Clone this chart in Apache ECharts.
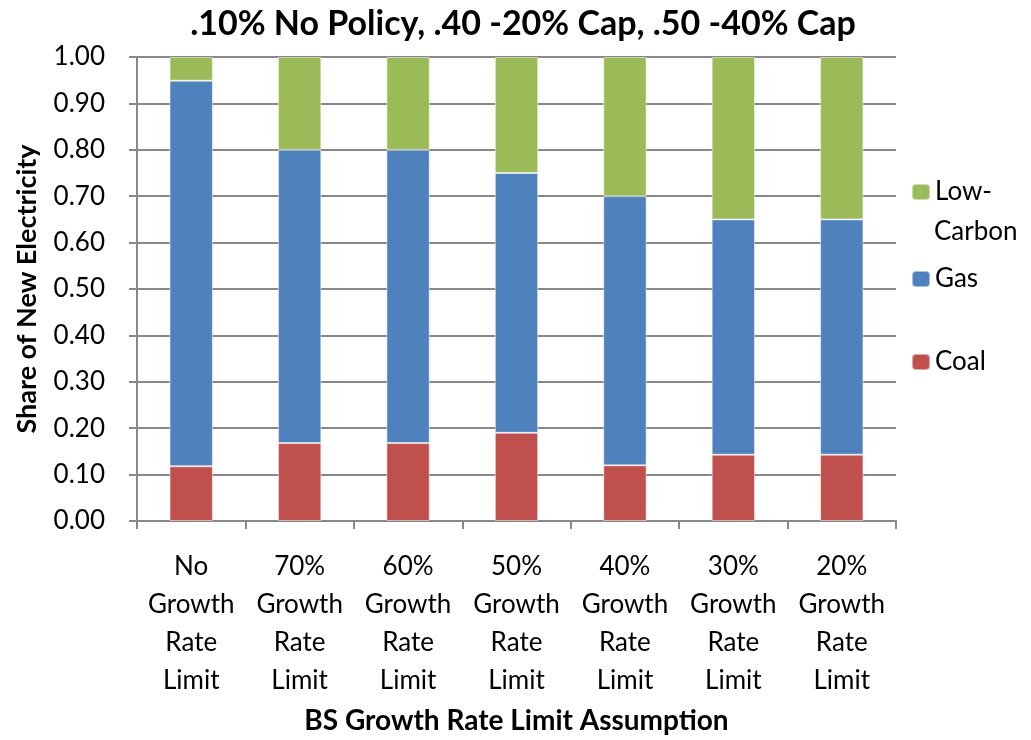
<!DOCTYPE html>
<html><head><meta charset="utf-8">
<script src="https://cdn.jsdelivr.net/npm/echarts@6/dist/echarts.min.js"></script>
<style>html,body{margin:0;padding:0;background:#fff}#c{width:1031px;height:740px}</style>
</head><body><div id="c"></div>
<script>
const categories = ['No\nGrowth\nRate\nLimit','70%\nGrowth\nRate\nLimit','60%\nGrowth\nRate\nLimit','50%\nGrowth\nRate\nLimit','40%\nGrowth\nRate\nLimit','30%\nGrowth\nRate\nLimit','20%\nGrowth\nRate\nLimit'];
const coal = [0.118, 0.168, 0.168, 0.19, 0.12, 0.143, 0.143];
const gas = [0.831, 0.632, 0.632, 0.56, 0.58, 0.507, 0.507];
const lowCarbon = [0.051, 0.20, 0.20, 0.25, 0.30, 0.35, 0.35];
const yTicks = ['0.00','0.10','0.20','0.30','0.40','0.50','0.60','0.70','0.80','0.90','1.00'];

const FONT = 'Lato, "Open Sans", sans-serif';
const chart = echarts.init(document.getElementById('c'), null, {renderer:'canvas'});
const legendBase = {orient:'vertical', itemWidth:18, itemHeight:16, itemGap:10,
  textStyle:{fontFamily:FONT, fontSize:26, color:'#000'}, selectedMode:false};
chart.setOption({
  animation:false,
  title:{text:'.10% No Policy, .40 -20% Cap, .50 -40% Cap', left:518, textAlign:'center', top:2,
    textStyle:{fontFamily:FONT, fontSize:34, fontWeight:'bold', color:'#000'}},
  legend:[
    Object.assign({}, legendBase, {data:['Low-Carbon'], left:906, top:174,
      formatter:()=> 'Low-'}),
    Object.assign({}, legendBase, {data:['Gas'], left:906, top:261}),
    Object.assign({}, legendBase, {data:['Coal'], left:906, top:344})
  ],
  graphic:[{type:'text', left:934, top:219,
    style:{text:'Carbon', fontFamily:FONT, fontSize:26, fill:'#000'}}],
  grid:{left:137, right:135, top:57, bottom:218, containLabel:false},
  xAxis:{type:'category', data:categories,
    axisLine:{lineStyle:{color:'#888', width:2}},
    axisTick:{show:true, alignWithLabel:false, length:8, lineStyle:{color:'#888', width:2}},
    axisLabel:{fontFamily:FONT, fontSize:26, color:'#000', lineHeight:38, margin:27, interval:0},
    name:'BS Growth Rate Limit Assumption', nameLocation:'middle', nameGap:186,
    nameTextStyle:{fontFamily:FONT, fontSize:28, fontWeight:'bold', color:'#000'}},
  yAxis:{type:'value', min:0, max:1, interval:0.1,
    axisLine:{show:true, lineStyle:{color:'#888', width:2}},
    axisTick:{show:true, length:8, lineStyle:{color:'#888', width:2}},
    splitLine:{lineStyle:{color:'#888', width:2}},
    axisLabel:{fontFamily:FONT, fontSize:26, color:'#000', margin:32,
      formatter:(v)=> yTicks[Math.round(v*10)]},
    name:'Share of New Electricity', nameLocation:'middle', nameGap:96,
    nameTextStyle:{fontFamily:FONT, fontSize:27, fontWeight:'bold', color:'#000'}},
  series:[
    {name:'Coal', type:'bar', stack:'s', data:coal, barCategoryGap:'60%',
      itemStyle:{color:'#C0504D', borderColor:'rgba(255,255,255,0.5)', borderWidth:1}},
    {name:'Gas', type:'bar', stack:'s', data:gas, barCategoryGap:'60%',
      itemStyle:{color:'#4F81BD', borderColor:'rgba(255,255,255,0.5)', borderWidth:1}},
    {name:'Low-Carbon', type:'bar', stack:'s', data:lowCarbon, barCategoryGap:'60%',
      itemStyle:{color:'#9BBB59', borderColor:'rgba(255,255,255,0.5)', borderWidth:1}}
  ]
});
</script></body></html>
